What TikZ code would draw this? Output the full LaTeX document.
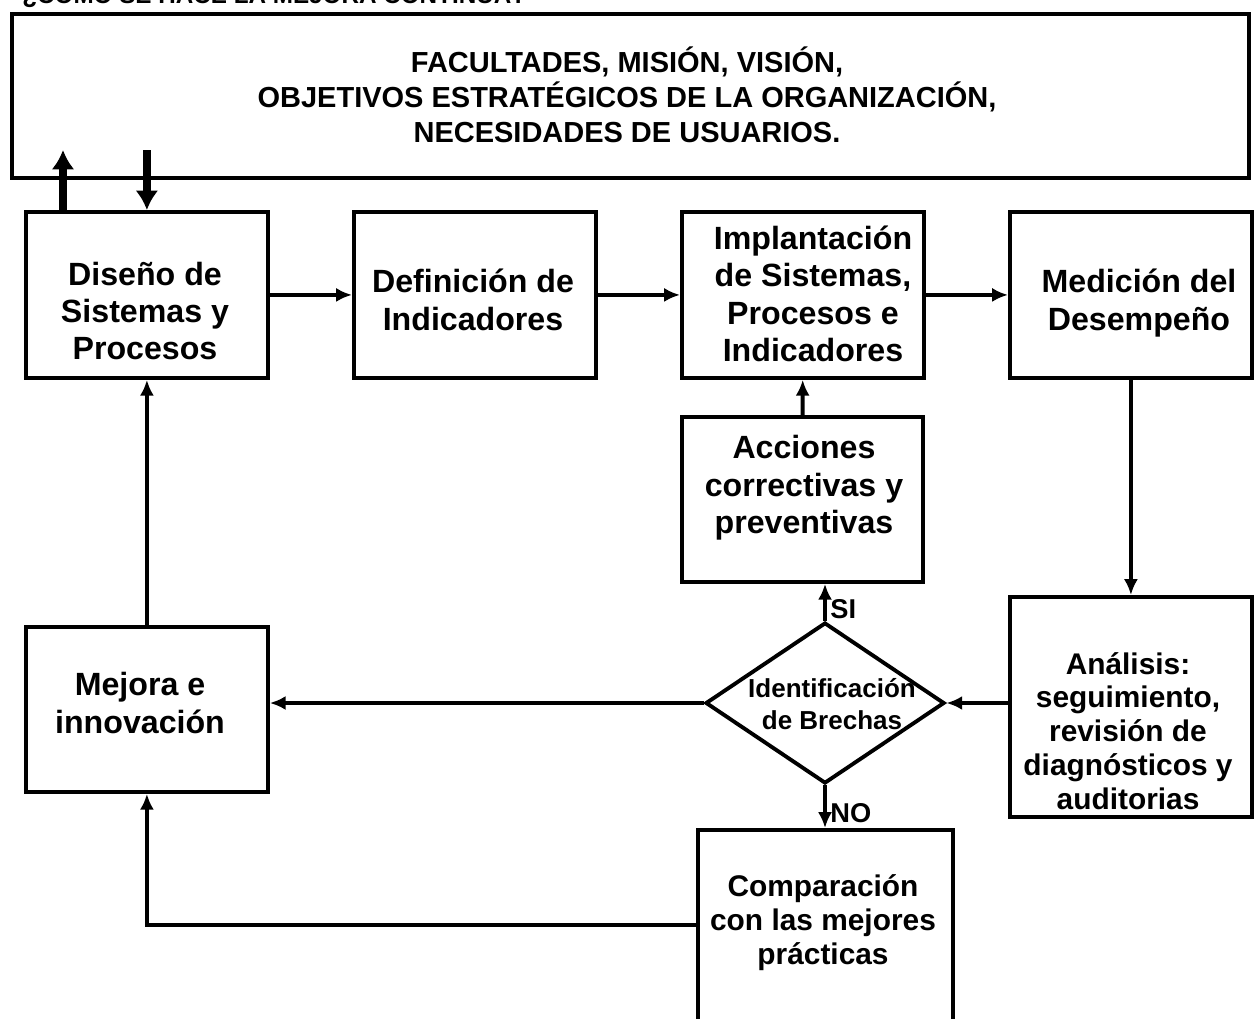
\documentclass[tikz,border=0pt]{standalone}
\usepackage{fontspec}
\setmainfont{Liberation Sans}
\usetikzlibrary{arrows.meta,shapes.geometric,calc}
\begin{document}
\begin{tikzpicture}[x=0.02cm, y=-0.02cm, >={Latex[length=9pt,width=8pt]},
  box/.style={draw, line width=2.2pt, inner sep=0pt, anchor=north west,
    minimum width=4.84cm, minimum height=3.32cm},
  txt/.style={font=\bfseries\fontsize{18.3}{21.3}\selectfont, align=center},
  small/.style={font=\bfseries\fontsize{17}{19.3}\selectfont, align=center},
  flow/.style={->, line width=2.2pt},
  bigflow/.style={-{Latex[length=11pt,width=13pt]}, line width=4.5pt}]
  \useasboundingbox (0,0) rectangle (1257,1018);
  % title, cut at the top edge
  \node[anchor=base west, inner sep=0pt, font=\bfseries\fontsize{13.8}{16}\selectfont] (title) at (22,3) {¿CÓMO SE HACE LA MEJORA CONTINUA?};
  % frame of the organisation
  \node[box, minimum width=24.74cm, minimum height=3.28cm] (org) at (10,12) {};
  \node[align=center, font=\bfseries\fontsize{16.5}{19.9}\selectfont] (orgtxt) at (627,95)
    {FACULTADES, MISIÓN, VISIÓN,\\OBJETIVOS ESTRATÉGICOS DE LA ORGANIZACIÓN,\\NECESIDADES DE USUARIOS.};
  % boxes
  \node[box] (diseno) at (24,210) {};
  \node[box] (defin) at (352,210) {};
  \node[box] (implant) at (680,210) {};
  \node[box] (medic) at (1008,210) {};
  \node[box, minimum width=4.82cm, minimum height=3.3cm] (acc) at (680,415) {};
  \node[box, minimum height=4.4cm] (anal) at (1008,595) {};
  \node[box, minimum height=3.3cm] (mejora) at (24,625) {};
  \node[box, minimum width=5.1cm, minimum height=3.88cm] (comp) at (696,828) {};
  \node[draw, diamond, line width=2.2pt, inner sep=0pt, minimum width=4.78cm, minimum height=3.22cm] (brecha) at (825,703) {};
  % texts
  \node[txt] at (145,311) {Diseño de\\Sistemas y\\Procesos};
  \node[txt] at (473,300) {Definición de\\Indicadores};
  \node[txt] at (813,294) {Implantación\\de Sistemas,\\Procesos e\\Indicadores};
  \node[txt] at (1139,303) {Medición del\\Desempeño};
  \node[txt] at (804,488) {Acciones\\correctivas y\\preventivas};
  \node[small] at (1128,731) {Análisis:\\seguimiento,\\revisión de\\diagnósticos y\\auditorias};
  \node[txt] at (140,703) {Mejora e\\innovación};
  \node[small] at (823,923) {Comparación\\con las mejores\\prácticas};
  \node[font=\bfseries\fontsize{14.8}{18.5}\selectfont, align=center] at (832,704) {Identificación\\de Brechas};
  % connectors
  \draw[bigflow] ($(diseno.north west)+(39,0)$) -- ++(0,-60);
  \draw[bigflow] ($(diseno.north)+(0,-60)$) -- (diseno.north);
  \draw[flow] (diseno) -- (defin);
  \draw[flow] (defin) -- (implant);
  \draw[flow] (implant) -- (medic);
  \draw[flow] (medic) -- (anal);
  \draw[flow] (anal.west |- brecha) -- (brecha.east);
  \draw[flow] (brecha.west) -- (brecha.west -| mejora.east);
  \draw[flow] (brecha.north) -- (brecha.north |- acc.south)
    node[pos=0.3, right, inner sep=2pt, font=\bfseries\fontsize{15.5}{18}\selectfont] {SI};
  \draw[flow] (acc) -- (implant);
  \draw[flow] (brecha.south) -- (brecha.south |- comp.north)
    node[pos=0.65, right, inner sep=2pt, font=\bfseries\fontsize{15.5}{18}\selectfont] {NO};
  \draw[flow] (mejora) -- (diseno);
  \draw[flow] (comp.west |- 0,925) -| (mejora.south);
\end{tikzpicture}
\end{document}
